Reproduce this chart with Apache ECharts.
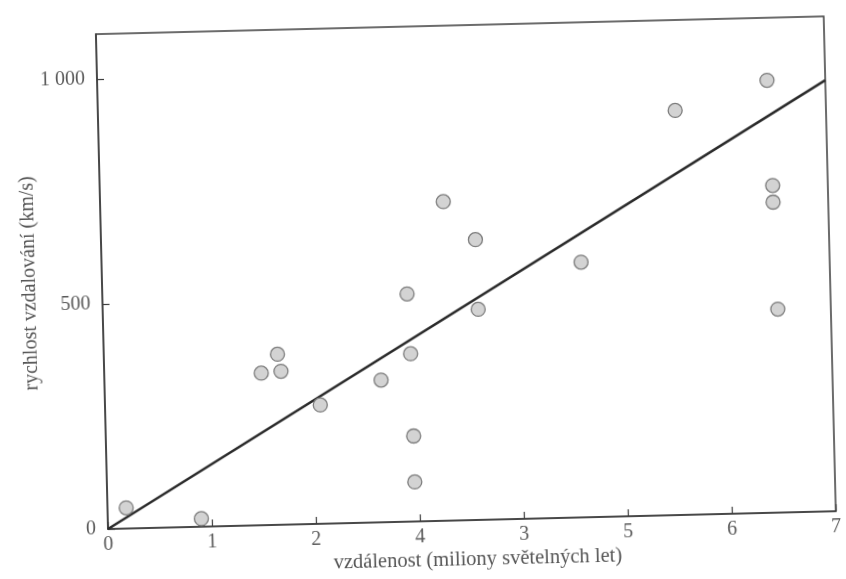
<!DOCTYPE html>
<html>
<head>
<meta charset="utf-8">
<script src="https://cdn.jsdelivr.net/npm/echarts@6/dist/echarts.min.js"></script>
<style>
  html, body { margin: 0; padding: 0; background: #ffffff; overflow: hidden; }
  #chart { width: 846px; height: 579px; transform: rotate(-1.4deg); transform-origin: 108px 529px; }
</style>
</head>
<body>
<div id="chart"></div>
<script>
// distance (millions of light years) and recession velocity (km/s)
const distances = [0.18, 0.90, 1.51, 1.67, 1.70, 2.07, 2.66, 2.93, 2.95, 2.96, 2.96, 3.30, 3.60, 3.61, 4.61, 5.55, 6.44, 6.47, 6.47, 6.49];
const velocities = [46, 18, 338, 379, 341, 264, 316, 506, 373, 190, 88, 709, 623, 468, 567, 899, 961, 727, 690, 452];

// fitted line endpoints
const lineX = [0, 7];
const lineY = [0, 958];

// tick labels as printed in the figure
const xTickValues = [0, 1, 2, 3, 4, 5, 6, 7];
const xTickLabels = ['0', '1', '2', '4', '3', '5', '6', '7'];
const yTickValues = [0, 500, 1000];
const yTickLabels = ['0', '500', '1 000'];

const xName = 'vzdálenost (miliony světelných let)';
const yName = 'rychlost vzdalování (km/s)';

const FONT = "'Liberation Serif', 'DejaVu Serif', serif";
const chart = echarts.init(document.getElementById('chart'), null, { renderer: 'canvas' });

chart.setOption({
  backgroundColor: '#ffffff',
  animation: false,
  grid: {
    left: 108, right: 10, top: 34, bottom: 50,
    outerBoundsMode: 'none', containLabel: false,
    show: true, borderColor: '#3c3c3c', borderWidth: 1.5, backgroundColor: 'transparent'
  },
  xAxis: {
    type: 'value', min: 0, max: 7, interval: 1,
    name: xName, nameLocation: 'middle', nameGap: 29, nameMoveOverlap: false,
    nameTextStyle: { fontFamily: FONT, fontSize: 20.5, color: '#555555', padding: [0, 0, 0, 10] },
    axisLine: { show: true, lineStyle: { color: '#3c3c3c', width: 1.5 } },
    axisTick: { show: true, inside: true, length: 7, lineStyle: { color: '#3c3c3c', width: 1.2 } },
    splitLine: { show: false },
    axisLabel: {
      margin: 6, fontFamily: FONT, fontSize: 20, color: '#5a5a5a',
      formatter: function (v) { const i = xTickValues.indexOf(v); return i >= 0 ? xTickLabels[i] : ''; }
    }
  },
  yAxis: {
    type: 'value', min: 0, max: 1100, interval: 500,
    name: yName, nameLocation: 'middle', nameGap: 62, nameRotate: 90, nameMoveOverlap: false,
    nameTextStyle: { fontFamily: FONT, fontSize: 20, color: '#555555' },
    axisLine: { show: true, lineStyle: { color: '#3c3c3c', width: 1.5 } },
    axisTick: { show: true, inside: true, length: 7, lineStyle: { color: '#3c3c3c', width: 1.2 } },
    splitLine: { show: false },
    axisLabel: {
      margin: 12, fontFamily: FONT, fontSize: 20, color: '#5a5a5a', showMaxLabel: false,
      formatter: function (v) { const i = yTickValues.indexOf(v); return i >= 0 ? yTickLabels[i] : ''; }
    }
  },
  series: [
    {
      type: 'line',
      data: lineX.map((x, i) => [x, lineY[i]]),
      showSymbol: false,
      lineStyle: { color: '#2a2a2a', width: 2.6 },
      z: 2,
      silent: true
    },
    {
      type: 'scatter',
      data: distances.map((x, i) => [x, velocities[i]]),
      symbol: 'circle',
      symbolSize: 14,
      itemStyle: { color: '#d3d3d3', borderColor: '#7c7c7c', borderWidth: 1.3, opacity: 1 },
      z: 3
    }
  ]
});
</script>
</body>
</html>
